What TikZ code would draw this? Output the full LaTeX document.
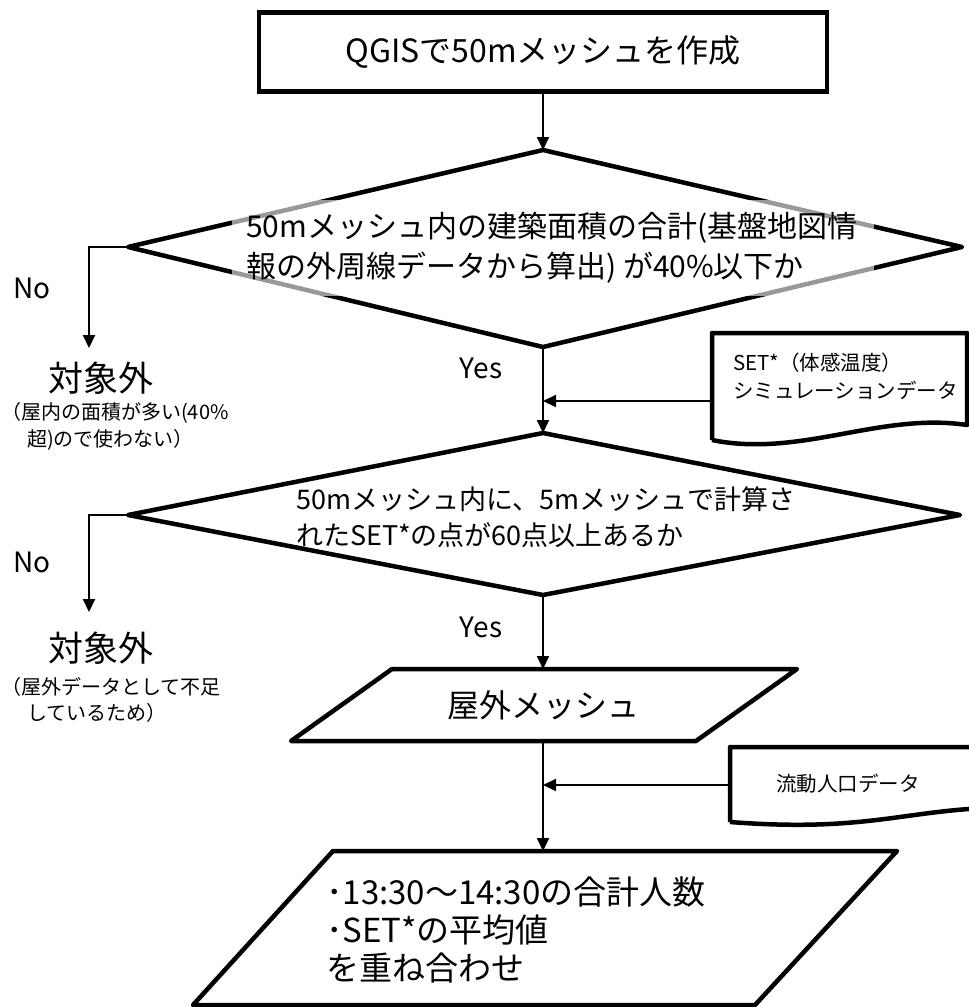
\documentclass[tikz,border=0pt]{standalone}
\usepackage{fontspec}
\setmainfont{Noto Sans CJK JP}
\usetikzlibrary{arrows.meta}
\begin{document}
\begin{tikzpicture}[x=1pt,y=-1pt,
  shapeline/.style={line width=4.5pt, line join=round},
  conn/.style={line width=2pt,-{Triangle[length=13pt,width=12pt]}},
  txt/.style={inner sep=0pt},
]
\useasboundingbox (0,0) rectangle (969,1007);
\clip (0,0) rectangle (969,1007);

% start box
\node[draw, line width=4.5pt, minimum width=568pt, minimum height=79pt, inner sep=0pt,
      font=\fontsize{32}{38}\selectfont] (start) at (543,52) {QGISで50mメッシュを作成};

% decision 1
\coordinate (d1t) at (543,150);
\coordinate (d1r) at (962,247);
\coordinate (d1b) at (543,347);
\coordinate (d1l) at (128,247);
\draw[shapeline] (d1t) -- (d1r) -- (d1b) -- (d1l) -- cycle;
\fill[white, fill opacity=0.6] (232,200) rectangle (874,296);
\node[txt, anchor=west, align=left, font=\fontsize{30}{40}\selectfont] (q1) at (246,248)
  {50mメッシュ内の建築面積の合計(基盤地図情\\報の外周線データから算出) が40\%以下か};

% no branch 1
\coordinate (n1c) at (89,247);
\coordinate (n1e) at (89,348);
\draw[conn] (d1l) -- (n1c) -- (n1e);
\node[txt, font=\fontsize{28}{28}\selectfont] (no1) at (32,288) {No};
\node[txt, font=\fontsize{35}{35}\selectfont] (out1) at (101,378) {対象外};
\node[txt, anchor=west, align=left, font=\fontsize{20}{27}\selectfont] (out1n) at (1,426)
  {（屋内の面積が多い(40\%\\\hspace*{26pt}超)ので使わない）};

% yes 1
\node[txt, font=\fontsize{28}{28}\selectfont] (yes1) at (481,368) {Yes};

% document SET*
\draw[shapeline] (712,440) -- (712,333) -- (967,333) -- (967,425)
  .. controls (880,412) and (800,458) .. (712,440);
\node[txt, anchor=west, align=left, font=\fontsize{20.5}{28}\selectfont] (doc1) at (733,376)
  {SET*（体感温度）\\シミュレーションデータ};
\coordinate (doc1l) at (712,401);
\coordinate (j1) at (543,401);

% decision 2
\coordinate (d2t) at (543,433);
\coordinate (d2r) at (960,515);
\coordinate (d2b) at (543,595);
\coordinate (d2l) at (128,515);
\draw[conn] (start.south) -- (d1t);
\draw[conn] (d1b) -- (d2t);
\draw[conn] (doc1l) -- (j1);
\draw[shapeline] (d2t) -- (d2r) -- (d2b) -- (d2l) -- cycle;
\node[txt, anchor=west, align=left, font=\fontsize{27}{36}\selectfont] (q2) at (296,517)
  {50mメッシュ内に、5mメッシュで計算さ\\れたSET*の点が60点以上あるか};

% no branch 2
\coordinate (n2c) at (89,515);
\coordinate (n2e) at (89,612);
\draw[conn] (d2l) -- (n2c) -- (n2e);
\node[txt, font=\fontsize{28}{28}\selectfont] (no2) at (32,562) {No};
\node[txt, font=\fontsize{35}{35}\selectfont] (out2) at (101,648) {対象外};
\node[txt, anchor=west, align=left, font=\fontsize{20}{26}\selectfont] (out2n) at (1,700)
  {（屋外データとして不足\\\hspace*{26pt}しているため）};

% yes 2
\node[txt, font=\fontsize{28}{28}\selectfont] (yes2) at (481,627) {Yes};

% outdoor mesh
\coordinate (p1t) at (543,669);
\coordinate (p1b) at (543,741);
\draw[shapeline] (392,669) -- (797,669) -- (696,741) -- (291,741) -- cycle;
\node[txt, font=\fontsize{32}{32}\selectfont] (mesh) at (543,705) {屋外メッシュ};
\draw[conn] (d2b) -- (p1t);

% document population
\draw[shapeline] (730,822) -- (730,747) -- (985,747) -- (985,808)
  .. controls (900,812) and (860,832) .. (730,822);
\node[txt, font=\fontsize{20.5}{20.5}\selectfont] (doc2) at (848,784) {流動人口データ};
\coordinate (doc2l) at (730,785);
\coordinate (j2) at (543,785);

% result
\coordinate (p2t) at (543,851);
\draw[shapeline] (333,851) -- (897,851) -- (755,1005) -- (193,1005) -- cycle;
\node[txt, anchor=west, align=left, font=\fontsize{33}{38}\selectfont] (res) at (326,930)
  {･13:30〜14:30の合計人数\\･SET*の平均値\\を重ね合わせ};
\draw[conn] (p1b) -- (p2t);
\draw[conn] (doc2l) -- (j2);
\end{tikzpicture}
\end{document}
